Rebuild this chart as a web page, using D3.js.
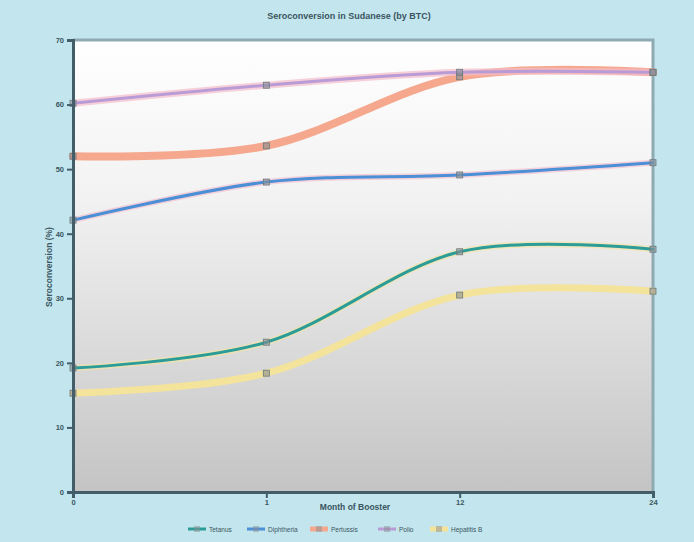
<!DOCTYPE html>
<html>
<head>
<meta charset="utf-8">
<script src="https://cdn.jsdelivr.net/npm/d3@7"></script>
<style>
  html, body { margin: 0; padding: 0; background: #c3e5ee; }
  svg { display: block; }
  text { font-family: "Liberation Sans", Arial, sans-serif; fill: #3a5560; }
</style>
</head>
<body>
<svg id="chart" width="694" height="542"></svg>
<script>
// Time points after the booster dose
const timepoints = ["0", "1", "12", "24"];
const yTicks = [0, 10, 20, 30, 40, 50, 60, 70];

// Seroconversion (%) per antigen
const tetanus     = [19.2, 23.2, 37.2, 37.6];
const diphtheria  = [42.1, 48.0, 49.1, 51.0];
const pertussis   = [52.0, 53.6, 64.3, 65.0];
const polio       = [60.2, 63.0, 65.0, 65.0];
const hepatitisB  = [15.3, 18.4, 30.5, 31.1];

const seriesNames = ["Tetanus", "Diphtheria", "Pertussis", "Polio", "Hepatitis B"];

const series = [
  { name: seriesNames[0], values: tetanus,    color: "#2b9c98", width: 3, halo: "#f3e4a6", haloWidth: 6 },
  { name: seriesNames[1], values: diphtheria, color: "#4b8fd6", width: 3, halo: "#f3c0cf", haloWidth: 6 },
  { name: seriesNames[2], values: pertussis,  color: "#f5a88e", width: 8, halo: null },
  { name: seriesNames[3], values: polio,      color: "#b99bd6", width: 3, halo: "#f4bccb", haloWidth: 7 },
  { name: seriesNames[4], values: hepatitisB, color: "#f4e39a", width: 7, halo: null }
];

const svg = d3.select("#chart");
const margin = { left: 73, right: 41, top: 40, bottom: 50 };
const W = 694, H = 542;
const x0 = margin.left, x1 = W - margin.right, y0 = H - margin.bottom, y1 = margin.top;

const x = d3.scalePoint().domain(timepoints).range([x0, x1]);
const y = d3.scaleLinear().domain([0, 70]).range([y0, y1]);

// plot background gradient
const defs = svg.append("defs");
const grad = defs.append("linearGradient").attr("id", "plotBg")
  .attr("x1", 0).attr("y1", 0).attr("x2", 0).attr("y2", 1);
grad.append("stop").attr("offset", "0%").attr("stop-color", "#ffffff");
grad.append("stop").attr("offset", "35%").attr("stop-color", "#f2f2f2");
grad.append("stop").attr("offset", "100%").attr("stop-color", "#c4c4c4");

svg.append("rect")
  .attr("x", x0).attr("y", y1)
  .attr("width", x1 - x0).attr("height", y0 - y1)
  .attr("fill", "url(#plotBg)");

// top and right frame
svg.append("path")
  .attr("d", `M${x0},${y1}H${x1}V${y0}`)
  .attr("fill", "none").attr("stroke", "#8eaab3").attr("stroke-width", 3);

// title
svg.append("text")
  .attr("x", (x0 + x1) / 2 - 14).attr("y", 19)
  .attr("text-anchor", "middle")
  .attr("font-size", 9).attr("font-weight", "bold")
  .text("Seroconversion in Sudanese (by BTC)");

const line = d3.line()
  .x((d, i) => x(timepoints[i]))
  .y(d => y(d))
  .curve(d3.curveCardinal.tension(0));

const lines = svg.append("g");
series.forEach(s => {
  if (s.halo) {
    lines.append("path").datum(s.values)
      .attr("d", line).attr("fill", "none")
      .attr("stroke", s.halo).attr("stroke-width", s.haloWidth)
      .attr("stroke-opacity", 0.7);
  }
  lines.append("path").datum(s.values)
    .attr("d", line).attr("fill", "none")
    .attr("stroke", s.color).attr("stroke-width", s.width)
    .attr("stroke-linecap", "round");
});

// point markers
series.forEach(s => {
  lines.selectAll(null).data(s.values).enter().append("rect")
    .attr("x", (d, i) => x(timepoints[i]) - 3)
    .attr("y", d => y(d) - 3)
    .attr("width", 6).attr("height", 6)
    .attr("fill", "#8a8f92").attr("fill-opacity", 0.6)
    .attr("stroke", "#6b787e").attr("stroke-width", 0.8);
});

// axes
const yAxis = svg.append("g").attr("transform", `translate(${x0},0)`)
  .call(d3.axisLeft(y).tickValues(yTicks).tickSize(6).tickPadding(3));
const xAxis = svg.append("g").attr("transform", `translate(0,${y0})`)
  .call(d3.axisBottom(x).tickSize(6).tickPadding(2));
[yAxis, xAxis].forEach(a => {
  a.select(".domain").attr("stroke", "#435e69").attr("stroke-width", 3);
  a.selectAll(".tick line").attr("stroke", "#435e69").attr("stroke-width", 2);
  a.selectAll(".tick text").attr("font-size", 7.5).attr("font-weight", "bold").attr("fill", "#3a5560");
});

// axis titles
svg.append("text")
  .attr("transform", `translate(52,${(y0 + y1) / 2 + 1}) rotate(-90)`)
  .attr("text-anchor", "middle")
  .attr("font-size", 8.5).attr("font-weight", "bold")
  .text("Seroconversion (%)");
svg.append("text")
  .attr("x", (x0 + x1) / 2 - 8).attr("y", y0 + 18)
  .attr("text-anchor", "middle")
  .attr("font-size", 8.5).attr("font-weight", "bold")
  .text("Month of Booster");

// legend
const legendX = [188, 247, 310, 378, 430];
const legend = svg.append("g").attr("transform", "translate(0,529)");
series.forEach((s, i) => {
  const g = legend.append("g").attr("transform", `translate(${legendX[i]},0)`);
  g.append("line").attr("x1", 0).attr("x2", 18).attr("y1", 0).attr("y2", 0)
    .attr("stroke", s.color).attr("stroke-width", Math.min(s.width, 5));
  g.append("rect").attr("x", 6).attr("y", -3).attr("width", 6).attr("height", 6)
    .attr("fill", "#8a8f92").attr("fill-opacity", 0.5);
  g.append("text").attr("x", 21).attr("y", 2.5)
    .attr("font-size", 6.5).text(s.name);
});
</script>
</body>
</html>
